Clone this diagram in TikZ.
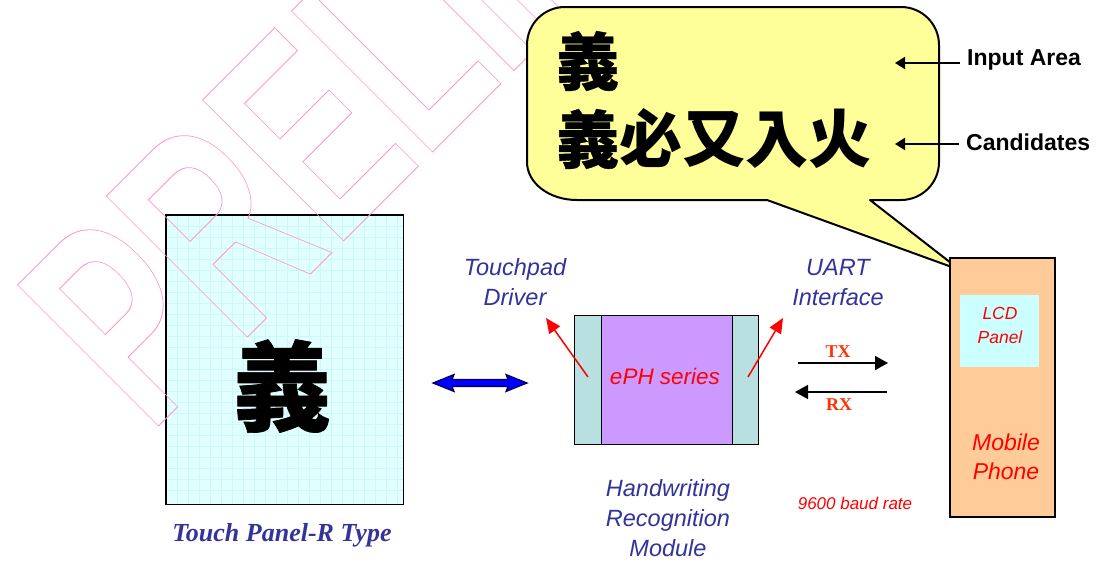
\documentclass[tikz,border=0pt]{standalone}
\usepackage{fontspec}
\usetikzlibrary{arrows.meta}
\newfontfamily\arial{Liberation Sans}
\newfontfamily\tnr{Liberation Serif}
\newfontfamily\cjk{Noto Sans CJK TC}
\newcommand\outlinedtext[1]{\special{pdf:literal direct 1 Tr 0.9 w}#1\special{pdf:literal direct 0 Tr}}
\newcommand\heavytext[2]{\special{pdf:literal direct 2 Tr 1 j #1 w}#2\special{pdf:literal direct 0 Tr 0 j}}
\definecolor{wmpink}{RGB}{255,150,205}
\definecolor{panelcyan}{RGB}{226,255,255}
\definecolor{gridcyan}{RGB}{205,248,250}
\definecolor{bubbleyellow}{RGB}{255,255,153}
\definecolor{stripteal}{RGB}{184,224,224}
\definecolor{modpurple}{RGB}{204,153,255}
\definecolor{phonepeach}{RGB}{255,204,153}
\definecolor{lcdcyan}{RGB}{204,255,255}
\definecolor{lblblue}{RGB}{51,51,153}
\definecolor{txred}{RGB}{255,51,0}
\tikzset{
  bluelbl/.style={font=\arial\itshape\fontsize{23.5}{30}\selectfont, text=lblblue, align=center, inner sep=0},
  redlbl/.style={font=\arial\itshape\fontsize{23}{29}\selectfont, text=red, align=center, inner sep=0},
  blacklbl/.style={font=\arial\bfseries\fontsize{23}{28}\selectfont, anchor=west, inner sep=0},
  calloutarrow/.style={line width=2pt, -{Triangle[length=10pt,width=12pt]}},
  sigarrow/.style={line width=1.6pt, -{Triangle[length=13pt,width=14pt]}},
  redarrow/.style={red, line width=1.5pt, -{Triangle[length=15pt,width=13pt]}},
  txlbl/.style={font=\tnr\bfseries\fontsize{18}{20}\selectfont, text=txred, inner sep=0},
  boxpart/.style={draw, line width=1.4pt, anchor=north west, inner sep=0}
}
\begin{document}
\begin{tikzpicture}[x=1pt,y=-1pt]
\useasboundingbox (0,0) rectangle (1099,562);
\fill[white] (0,0) rectangle (1099,562);

% touch panel
\node[fill=panelcyan, minimum width=237pt, minimum height=289pt, anchor=north west, inner sep=0] (panel) at (166,215) {};
\foreach \gx in {177,188,...,400} \draw[gridcyan, line width=0.5pt] (\gx,215) -- (\gx,504);
\foreach \gy in {226,237,...,500} \draw[gridcyan, line width=0.5pt] (166,\gy) -- (403,\gy);
\draw[line width=1.6pt] (panel.north west) rectangle (panel.south east);
\node[font=\cjk\bfseries\fontsize{98}{98}\selectfont, inner sep=0] (panelchar) at (282,386) {\heavytext{0.7}{義}};
\node[font=\tnr\bfseries\itshape\fontsize{26}{30}\selectfont, text=lblblue, inner sep=0] (panellabel) at (282,535) {Touch Panel-R Type};

% watermark
\begin{scope}
\clip (0,0) rectangle (1099,562);
\node[anchor=base west, inner sep=0, rotate=45, xscale=0.65, text=wmpink] (wm) at (149.5,435.1)
  {\arial\bfseries\fontsize{290}{290}\selectfont\outlinedtext{PRELIMINARY}};
\end{scope}

% speech bubble
\draw[line width=2pt, fill=bubbleyellow, line join=round]
  (767,200) -- (577,200) .. controls (549,200) and (527,183) .. (527,162)
  -- (527,45) .. controls (527,24) and (544,7) .. (565,7)
  -- (901,7) .. controls (922,7) and (939,24) .. (939,45)
  -- (939,162) .. controls (939,183) and (922,200) .. (901,200)
  -- (870,200) -- (960,270) -- cycle;
\node[font=\cjk\bfseries\fontsize{63}{63}\selectfont, anchor=west, inner sep=0] (inputchar) at (556,61) {\heavytext{0.35}{義}};
\node[font=\cjk\bfseries\fontsize{63}{63}\selectfont, anchor=west, inner sep=0] (candchars) at (556,139) {\heavytext{0.35}{義}必又入火};

\node[blacklbl] (inlabel) at (967,60) {Input Area};
\node[blacklbl] (candlabel) at (966,142) {Candidates};
\coordinate (inT) at (895,63);
\coordinate (candT) at (895,144);
\draw[calloutarrow] ([xshift=-7pt]inlabel.west |- inT) -- (inT);
\draw[calloutarrow] ([xshift=-7pt]candlabel.west |- candT) -- (candT);

% blue double arrow
\draw[fill=blue, draw=black!70!blue, line width=1.2pt, line join=miter]
  (433,383) -- (454,374.5) -- (452,379.5) -- (508,379.5) -- (506,374.5) -- (527,383)
  -- (506,391.5) -- (508,386.5) -- (452,386.5) -- (454,391.5) -- cycle;

% ePH module
\node[boxpart, fill=stripteal, minimum width=27pt, minimum height=129pt] (lstrip) at (574,315) {};
\node[boxpart, fill=modpurple, minimum width=131pt, minimum height=129pt] (core) at (601,315) {};
\node[boxpart, fill=stripteal, minimum width=26pt, minimum height=129pt] (rstrip) at (732,315) {};
\node[font=\arial\itshape\fontsize{22.5}{27}\selectfont, text=red, inner sep=0] (eph) at (665,376) {ePH series};

\coordinate (lsrc) at (588,377);
\coordinate (ltip) at (546,318);
\coordinate (rsrc) at (748,377);
\coordinate (rtip) at (783,318);
\draw[redarrow] (lsrc) -- (ltip);
\draw[redarrow] (rsrc) -- (rtip);

\node[bluelbl] (tpd) at (515,282.5) {Touchpad\\Driver};
\node[bluelbl] (uart) at (838,282.5) {UART\\Interface};
\node[bluelbl] (hrm) at (668,518) {Handwriting\\Recognition\\Module};

% TX / RX
\coordinate (txs) at (798,363);
\coordinate (txe) at (888,363);
\coordinate (rxs) at (887,392);
\coordinate (rxe) at (795,392);
\draw[sigarrow] (txs) -- (txe);
\draw[sigarrow] (rxs) -- (rxe);
\node[txlbl] (tx) at (838,352) {TX};
\node[txlbl] (rx) at (839,405) {RX};
\node[font=\arial\itshape\fontsize{17}{20}\selectfont, text=red, inner sep=0] (baud) at (855,503) {9600 baud rate};

% phone
\node[draw, fill=phonepeach, line width=1.8pt, minimum width=105pt, minimum height=259pt, anchor=north west, inner sep=0] (phone) at (949,257) {};
\node[fill=lcdcyan, minimum width=79pt, minimum height=72pt, anchor=north west, inner sep=0] (lcd) at (960,295) {};
\node[font=\arial\itshape\fontsize{17.5}{24}\selectfont, text=red, align=center, inner sep=0] (lcdtext) at (1000,325) {LCD\\Panel};
\node[redlbl] (mobile) at (1006,457) {Mobile\\Phone};
\end{tikzpicture}
\end{document}
